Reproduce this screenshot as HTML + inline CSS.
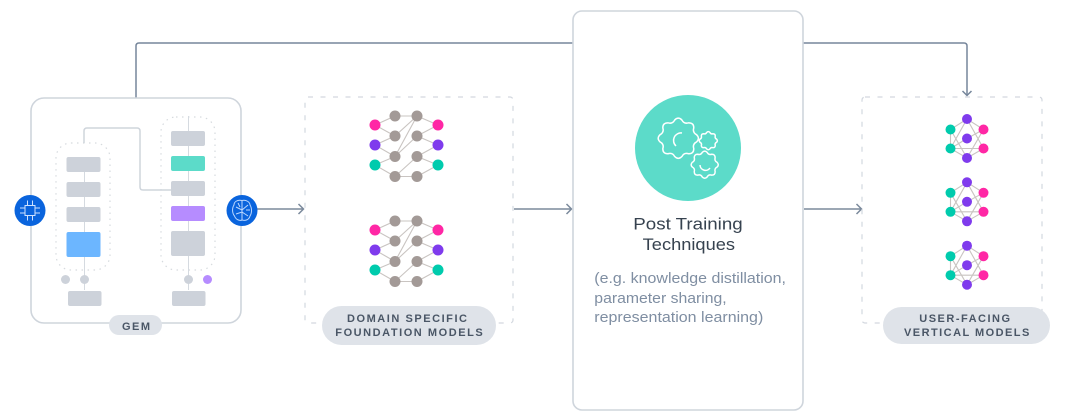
<!DOCTYPE html>
<html><head><meta charset="utf-8"><style>
html,body{margin:0;padding:0;background:#fff;width:1080px;height:418px;overflow:hidden}
svg{display:block;filter:blur(.35px)}
text{font-family:"Liberation Sans",sans-serif}
.lab{font-size:11px;font-weight:bold;fill:#4a5666}
.b{font-size:14.5px;fill:#7f8ea2}
.t{font-size:17px;fill:#36424f}
</style></head><body>
<svg width="1080" height="418" viewBox="0 0 1080 418" xmlns="http://www.w3.org/2000/svg">
<defs>
<path id="gear" fill="none" stroke="#fff" stroke-width="1.5" vector-effect="non-scaling-stroke" d="M.912,-.181Q1.1,0 .912,.181Q.702,.291 .773,.517Q.778,.778 .517,.773Q.291,.702 .181,.912Q0,1.1 -.181,.912Q-.291,.702 -.517,.773Q-.778,.778 -.773,.517Q-.702,.291 -.912,.181Q-1.1,0 -.912,-.181Q-.702,-.291 -.773,-.517Q-.778,-.778 -.517,-.773Q-.291,-.702 -.181,-.912Q0,-1.1 .181,-.912Q.291,-.702 .517,-.773Q.778,-.778 .773,-.517Q.702,-.291 .912,-.181Z"/>
<g id="net">
<g stroke="#c9c4c1" stroke-width="1.1" fill="none">
<path d="M375,125L395,116M375,125L395,136M375,145L395,136M375,145L395,156.500M375,165L395,156.500M375,165L395,176.500"/>
<path d="M395,116H417M395,136L417,116M395,156.500L417,116M395,156.500L417,136M395,176.500L417,156.500M395,176.500H417"/>
<path d="M417,116L438,125M417,136L438,125M417,136L438,145M417,156.500L438,145M417,156.500L438,165M417,176.500L438,165"/>
</g>
<g fill="#a39a97"><circle cx="395" cy="116" r="5.500"/><circle cx="395" cy="136" r="5.500"/><circle cx="395" cy="156.500" r="5.500"/><circle cx="395" cy="176.500" r="5.500"/><circle cx="417" cy="116" r="5.500"/><circle cx="417" cy="136" r="5.500"/><circle cx="417" cy="156.500" r="5.500"/><circle cx="417" cy="176.500" r="5.500"/></g>
<circle cx="375" cy="125" r="5.500" fill="#ff27a5"/><circle cx="375" cy="145" r="5.500" fill="#7f3bed"/><circle cx="375" cy="165" r="5.500" fill="#00cbad"/>
<circle cx="438" cy="125" r="5.500" fill="#ff27a5"/><circle cx="438" cy="145" r="5.500" fill="#7f3bed"/><circle cx="438" cy="165" r="5.500" fill="#00cbad"/>
</g>
<g id="hex">
<g stroke="#c9c4c1" stroke-width="1.1" fill="none">
<path d="M950.500,129.500L967,119L983.500,129.500M950.500,129.500V148.500M950.500,148.500L967,158L983.500,148.500M950.500,148.500H983.500"/>
<path d="M950.500,129.500L967,158M967,119L950.500,148.500M967,119L983.500,148.500M983.500,129.500L967,138.500L950.500,148.500M983.500,129.500L967,158"/>
</g>
<circle cx="967" cy="119" r="5" fill="#7f3bed"/><circle cx="967" cy="138.500" r="5" fill="#7f3bed"/><circle cx="967" cy="158" r="5" fill="#7f3bed"/>
<circle cx="950.500" cy="129.500" r="5" fill="#00cbad"/><circle cx="950.500" cy="148.500" r="5" fill="#00cbad"/>
<circle cx="983.500" cy="129.500" r="5" fill="#ff27a5"/><circle cx="983.500" cy="148.500" r="5" fill="#ff27a5"/>
</g>
</defs>

<!-- connectors -->
<g fill="none" stroke-width="1.500">
<path d="M136,98V46Q136,43 139,43H573" stroke="#76869b"/>
<path d="M803,43H964Q967,43 967,46V95" stroke="#76869b"/>
<path d="M962.500,91L967,95.500L971.500,91" stroke="#76869b"/>
<path d="M256,209H303M298.500,204L303.500,209L298.500,214" stroke="#7b8a9c"/>
<path d="M514,209H571M566.500,204L571.500,209L566.500,214" stroke="#7b8a9c"/>
<path d="M804,209H861M856.500,204L861.500,209L856.500,214" stroke="#7b8a9c"/>
</g>

<!-- GEM -->
<rect x="31" y="98" width="210" height="225" rx="13" fill="#fff" stroke="#cfd5dc" stroke-width="1.600"/>
<rect x="56" y="143" width="54" height="127" rx="15" fill="none" stroke="#d6dade" stroke-width="1.200" stroke-dasharray="1.500 4.500"/>
<rect x="161" y="117" width="54" height="153" rx="15" fill="none" stroke="#d6dade" stroke-width="1.200" stroke-dasharray="1.500 4.500"/>
<g fill="none" stroke="#d5dae0" stroke-width="1">
<path d="M84.500,157V290"/><path d="M188.500,116V290"/>
</g>
<path d="M84,143V131Q84,128 87,128H137Q140,128 140,131V187Q140,190 143,190H171" fill="none" stroke="#cfd5dc" stroke-width="1.500"/>
<g fill="#cdd2da">
<rect x="66.500" y="157" width="34" height="15" rx="2"/>
<rect x="66.500" y="182" width="34" height="15" rx="2"/>
<rect x="66.500" y="207" width="34" height="15" rx="2"/>
<rect x="171" y="131" width="34" height="15" rx="2"/>
<rect x="171" y="181" width="34" height="15" rx="2"/>
<rect x="171" y="231" width="34" height="25" rx="2"/>
<rect x="68" y="291" width="33.500" height="15" rx="2"/>
<rect x="172" y="291" width="33.500" height="15" rx="2"/>
<circle cx="65.500" cy="279.500" r="4.500"/><circle cx="84.500" cy="279.500" r="4.500"/><circle cx="188.500" cy="279.500" r="4.500"/>
</g>
<rect x="66.500" y="232" width="34" height="25" rx="2" fill="#6cb6ff"/>
<rect x="171" y="156" width="34" height="15" rx="2" fill="#5cdbc9"/>
<rect x="171" y="206" width="34" height="15" rx="2" fill="#b68cff"/>
<circle cx="207.500" cy="279.500" r="4.500" fill="#b68cff"/>
<rect x="109" y="315" width="53" height="20" rx="10" fill="#dfe3e9"/>
<text class="lab" x="122" y="330" textLength="28" lengthAdjust="spacing">GEM</text>

<!-- chip -->
<circle cx="30" cy="210.500" r="15.500" fill="#0a64dd"/>
<g fill="none" stroke="#cfe2ff" stroke-width="1">
<rect x="25" y="205.500" width="10" height="10"/>
<path d="M27.500,205V200.500M32.500,205V200.500M27.500,216V220.500M32.500,216V220.500M24.500,208H20M24.500,213H20M35.500,208H40M35.500,213H40"/>
</g>
<!-- brain -->
<circle cx="242" cy="210.500" r="15.500" fill="#0a64dd"/>
<g fill="none" stroke="#bcd8ff" stroke-width="1">
<path d="M242,200.500C237,199.500 234,202 234,205C232,208 232,213 234.500,216C236,220 240,221 242,220C245,221 249,220 250,216C252,213 252,208 250,205C250,202 246,199.500 242,200.500Z"/>
<path d="M242,201V220M236,207L242,210L248,205M236,214L242,212L248,216M238,203L240,207M246,210H250"/>
</g>

<!-- Domain box -->
<rect x="305" y="97" width="208" height="226" rx="3" fill="none" stroke="#d3d8df" stroke-width="1.200" stroke-dasharray="5 7.500"/>
<use href="#net"/>
<use href="#net" y="105"/>
<rect x="322" y="306" width="174" height="39" rx="19.500" fill="#dfe3e9"/>
<text class="lab" x="347" y="322" textLength="120" lengthAdjust="spacing">DOMAIN SPECIFIC</text>
<text class="lab" x="335.300" y="336" textLength="147.400" lengthAdjust="spacing">FOUNDATION MODELS</text>

<!-- Center -->
<rect x="573" y="11" width="230" height="399" rx="9" fill="#fff" stroke="#cfd5dc" stroke-width="1.600"/>
<circle cx="688" cy="148" r="53" fill="#5cdbc9"/>
<use href="#gear" transform="translate(678.300,138.300) scale(20)"/>
<use href="#gear" transform="translate(708.300,140.700) scale(9)"/>
<use href="#gear" transform="translate(704.700,164.700) scale(13.500)"/>
<path d="M682,133A7.500,7.500 0 0 0 676,146" fill="none" stroke="#fff" stroke-width="1.500"/>
<path d="M700,165A5.500,5.500 0 0 0 710,168" fill="none" stroke="#fff" stroke-width="1.500"/>
<text class="t" x="633.300" y="229.300" textLength="109.400" lengthAdjust="spacingAndGlyphs">Post Training</text>
<text class="t" x="642.700" y="250" textLength="92.300" lengthAdjust="spacingAndGlyphs">Techniques</text>
<text class="b" x="594.300" y="283" textLength="191.700" lengthAdjust="spacingAndGlyphs">(e.g. knowledge distillation,</text>
<text class="b" x="594.300" y="303" textLength="132.400" lengthAdjust="spacingAndGlyphs">parameter sharing,</text>
<text class="b" x="594.300" y="322" textLength="169" lengthAdjust="spacingAndGlyphs">representation learning)</text>

<!-- User box -->
<rect x="862" y="97" width="180" height="226" rx="3" fill="none" stroke="#d3d8df" stroke-width="1.200" stroke-dasharray="5 7.500"/>
<use href="#hex"/>
<use href="#hex" y="63.300"/>
<use href="#hex" y="126.700"/>
<rect x="883" y="307" width="167" height="37" rx="18.500" fill="#dfe3e9"/>
<text class="lab" x="919.300" y="322" textLength="90.700" lengthAdjust="spacing">USER-FACING</text>
<text class="lab" x="904" y="336" textLength="125.300" lengthAdjust="spacing">VERTICAL MODELS</text>
</svg>
</body></html>
